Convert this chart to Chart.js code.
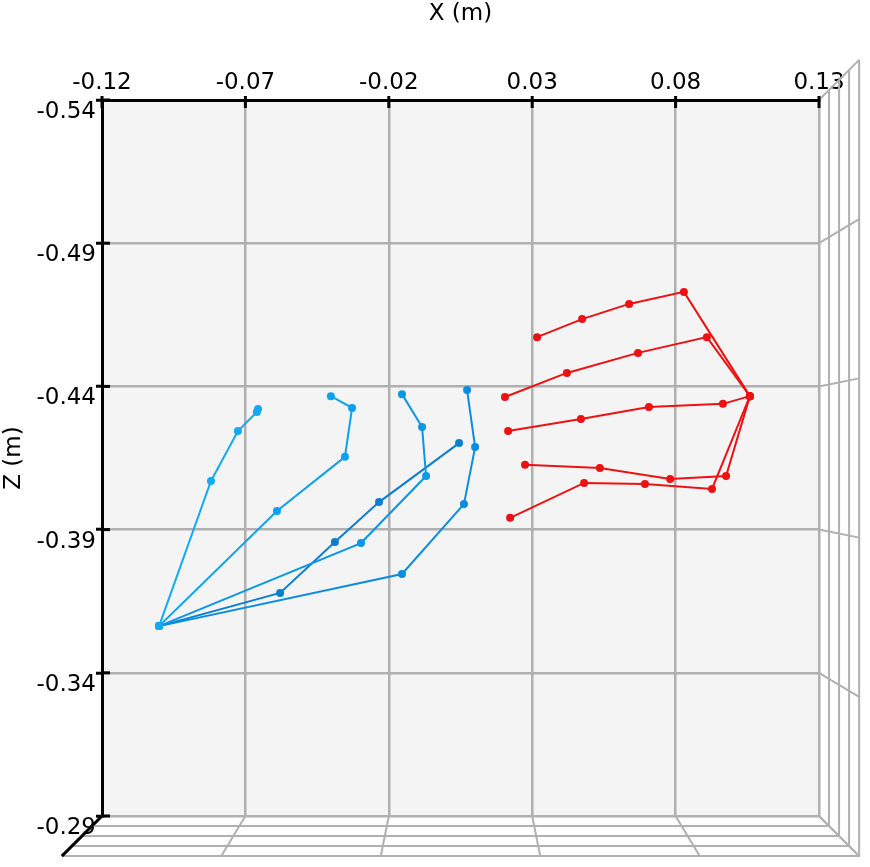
<!DOCTYPE html>
<html><head><meta charset="utf-8">
<script src="https://cdn.jsdelivr.net/npm/chart.js@4"></script>
<style>body{margin:0;background:#fff}#w{width:870px;height:867px}</style>
</head><body><div id="w"><canvas id="c"></canvas></div>
<script>
const xTicks=[-0.12,-0.07,-0.02,0.03,0.08,0.13];
const zTicks=[-0.54,-0.49,-0.44,-0.39,-0.34,-0.29];
const redX=[
[0.1059,0.0909,0.0669,0.0421,0.0205],
[0.1059,0.0829,0.0638,0.0474,0.0317],
[0.1059,0.0965,0.0707,0.0470,0.0216],
[0.1059,0.0976,0.0781,0.0536,0.0275],
[0.1059,0.0927,0.0693,0.0481,0.0223]];
const redZ=[
[-0.4366,-0.4572,-0.4517,-0.4447,-0.4363],
[-0.4366,-0.4730,-0.4688,-0.4635,-0.4572],
[-0.4366,-0.4339,-0.4328,-0.4286,-0.4244],
[-0.4366,-0.4087,-0.4077,-0.4115,-0.4126],
[-0.4366,-0.4042,-0.4059,-0.4063,-0.3941]];
const blueX=[
[-0.1001,-0.0820,-0.0726,-0.0660,-0.0656],
[-0.1001,-0.0590,-0.0353,-0.0328,-0.0402],
[-0.1001,-0.0297,-0.0070,-0.0084,-0.0154],
[-0.1001,-0.0154,0.0062,0.0101,0.0073],
[-0.1001,-0.0579,-0.0388,-0.0234,0.0045]];
const blueZ=[
[-0.3563,-0.4070,-0.4244,-0.4311,-0.4321],
[-0.3563,-0.3965,-0.4154,-0.4325,-0.4366],
[-0.3563,-0.3853,-0.4087,-0.4258,-0.4373],
[-0.3563,-0.3745,-0.3989,-0.4188,-0.4387],
[-0.3563,-0.3679,-0.3857,-0.3996,-0.4202]];
const blueCols=['#12aaf2','#0aa2ee','#0b96e6','#0a8ce0','#0a7fd0'];
const ds=[];
redX.forEach((xs,i)=>ds.push({data:xs.map((x,j)=>({x,y:redZ[i][j]})),borderColor:'#ee1111',backgroundColor:'#ee1111'}));
blueX.forEach((xs,i)=>ds.push({data:xs.map((x,j)=>({x,y:blueZ[i][j]})),borderColor:blueCols[i],backgroundColor:blueCols[i]}));
ds.forEach(d=>{d.showLine=true;d.borderWidth=2;d.pointRadius=4;d.pointBorderWidth=0;});
const box={id:'box',
beforeDatasetsDraw(ch){const {ctx,chartArea:a,scales:{x,y}}=ch;
 const cx=460.5,cy=458,k=1.112;
 const T=(px,py)=>[cx+(px-cx)*k,cy+(py-cy)*k];
 ctx.save();ctx.strokeStyle='#b0b0b0';ctx.lineWidth=2;
 zTicks.forEach(t=>{const py=y.getPixelForValue(t);const e=T(a.right,py);ctx.beginPath();ctx.moveTo(a.right,py);ctx.lineTo(e[0],e[1]);ctx.stroke();});
 xTicks.forEach(t=>{const px=x.getPixelForValue(t);const e=T(px,a.bottom);ctx.beginPath();ctx.moveTo(px,a.bottom);ctx.lineTo(e[0],e[1]);ctx.stroke();});
 const tr=T(a.right,a.top),br=T(a.right,a.bottom),bl=T(a.left,a.bottom);
 ctx.beginPath();ctx.moveTo(tr[0],tr[1]);ctx.lineTo(br[0],br[1]);ctx.lineTo(bl[0],bl[1]);ctx.stroke();
 for(let i=1;i<4;i++){const f=1+(k-1)*i/4;const p1=[cx+(a.left-cx)*f,cy+(a.bottom-cy)*f],p2=[cx+(a.right-cx)*f,cy+(a.bottom-cy)*f],p3=[cx+(a.right-cx)*f,cy+(a.top-cy)*f];
  ctx.beginPath();ctx.moveTo(p1[0],p1[1]);ctx.lineTo(p2[0],p2[1]);ctx.lineTo(p3[0],p3[1]);ctx.stroke();}
 ctx.strokeStyle='#000';ctx.lineWidth=3;
 ctx.beginPath();ctx.moveTo(a.left,a.bottom);ctx.lineTo(bl[0],bl[1]);ctx.stroke();
 zTicks.forEach(t=>{const py=y.getPixelForValue(t);ctx.beginPath();ctx.moveTo(a.left,py);ctx.lineTo(a.left+8,py);ctx.stroke();});
 xTicks.forEach(t=>{const px=x.getPixelForValue(t);ctx.beginPath();ctx.moveTo(px,a.top-4);ctx.lineTo(px,a.top+8);ctx.stroke();});
 ctx.restore();},
beforeDraw(ch){const {ctx,chartArea:a}=ch;ctx.save();ctx.fillStyle='#f4f4f4';ctx.fillRect(a.left,a.top,a.right-a.left,a.bottom-a.top);ctx.restore();}
};
Chart.defaults.font.family='DejaVu Sans';
new Chart(document.getElementById('c'),{type:'scatter',data:{datasets:ds},plugins:[box],
options:{responsive:true,maintainAspectRatio:false,animation:false,
layout:{padding:{right:51,bottom:51,left:0,top:0}},
plugins:{legend:{display:false},tooltip:{enabled:false}},
scales:{
x:{type:'linear',position:'top',min:-0.12,max:0.13,
 afterBuildTicks:s=>{s.ticks=xTicks.map(v=>({value:v}));},
 afterFit:s=>{s.height=100;},
 ticks:{color:'#000',font:{size:23},padding:2,callback:v=>v.toFixed(2),maxRotation:0},
 grid:{color:'#b0b0b0',lineWidth:2.5,tickColor:'#000',tickLength:1,tickWidth:3},
 border:{color:'#000',width:3},
 title:{display:true,text:'X (m)',color:'#000',font:{size:23},padding:{bottom:12,top:0}}},
y:{type:'linear',reverse:true,min:-0.54,max:-0.29,
 afterBuildTicks:s=>{s.ticks=zTicks.map(v=>({value:v}));},
 afterFit:s=>{s.width=102;},
 ticks:{color:'#000',font:{size:23},padding:0,labelOffset:12,callback:v=>v.toFixed(2)},
 grid:{color:'#b0b0b0',lineWidth:2.5,tickColor:'#000',tickLength:6,tickWidth:3},
 border:{color:'#000',width:3},
 title:{display:true,text:'Z (m)',color:'#000',font:{size:23},padding:0}}
}}});
</script></body></html>
